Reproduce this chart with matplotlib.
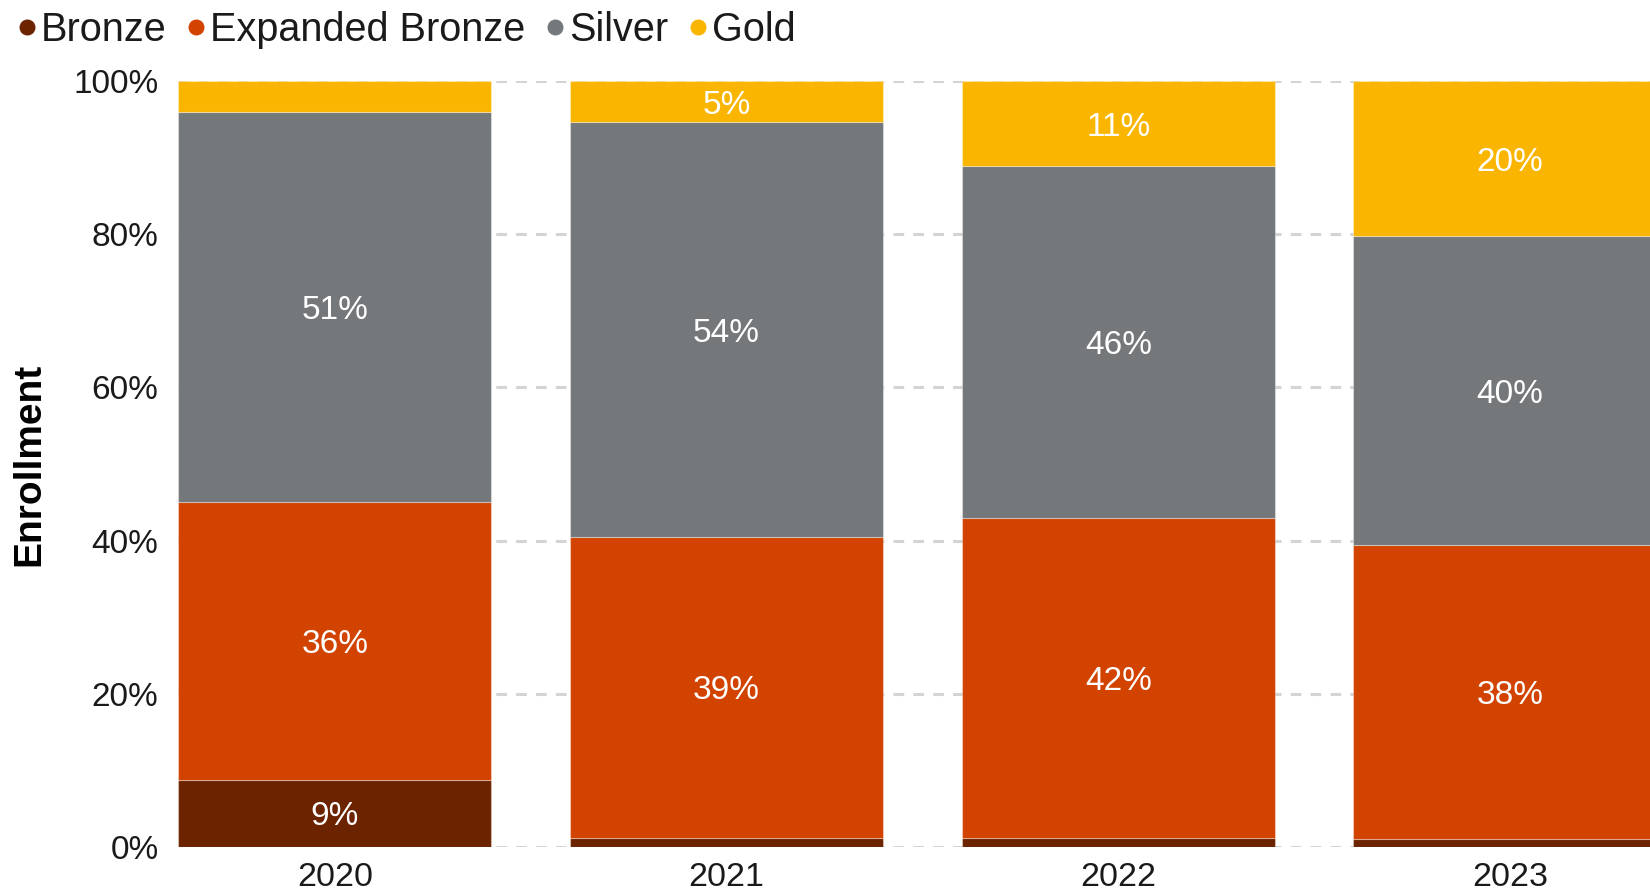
import numpy as np
import matplotlib
matplotlib.use("Agg")
import matplotlib.pyplot as plt
from matplotlib.lines import Line2D

# enrollment share by metal tier, percent of total
years = ["2020", "2021", "2022", "2023"]
tiers = ["Bronze", "Expanded Bronze", "Silver", "Gold"]
bronze = [8.8, 1.2, 1.2, 1.0]
expanded_bronze = [36.3, 39.3, 41.8, 38.4]
silver = [50.8, 54.1, 45.9, 40.3]
gold = [4.1, 5.4, 11.1, 20.3]
y_ticks = [0, 20, 40, 60, 80, 100]

colors = ["#6B2300", "#D24300", "#75787B", "#F9B500"]

plt.rcParams["font.family"] = ["Liberation Sans", "DejaVu Sans"]

fig = plt.figure(figsize=(16.5, 8.94), dpi=100)
ax = fig.add_axes([0.1079, 0.0526, 0.8921, 0.8568])

x = np.arange(len(years))
bottom = np.zeros(len(years))
for name, vals, col in zip(tiers, [bronze, expanded_bronze, silver, gold], colors):
    vals = np.array(vals)
    ax.bar(x, vals, width=0.8, bottom=bottom, color=col,
           edgecolor=(1, 1, 1, 0.35), linewidth=0.8, zorder=3)
    # small segments stay unlabelled
    for xi, b, v in zip(x, bottom, vals):
        if v >= 5:
            ax.text(xi, b + v / 2, f"{v:.0f}%", ha="center", va="center_baseline",
                    color="white", fontsize=24, zorder=4)
    bottom += vals

ax.set_xlim(-0.4, 3.357)
ax.set_ylim(0, 100)
ax.set_yticks(y_ticks)
ax.set_yticklabels([f"{t}%" for t in y_ticks])
ax.set_xticks(x)
ax.set_xticklabels(years)
ax.tick_params(axis="y", length=0, pad=14, labelsize=24, labelcolor="#1a1a1a")
ax.tick_params(axis="x", length=0, pad=11, labelsize=24.5, labelcolor="#1a1a1a")
for s in ax.spines.values():
    s.set_visible(False)
ax.yaxis.grid(True, color="#d4d4d4", linewidth=2.2, linestyle=(0, (3.5, 3)), zorder=0)
ax.set_axisbelow(True)

ax.set_ylabel("Enrollment", fontsize=28, fontweight="bold", color="#000000")
ax.yaxis.set_label_coords(-0.089, 0.5)

handles = [Line2D([], [], marker="o", linestyle="", markersize=10.5,
                  markerfacecolor=c, markeredgecolor=c) for c in colors]
fig.legend(handles, tiers, loc="upper left", bbox_to_anchor=(0.008, 0.992),
           ncol=4, frameon=False, fontsize=28.5, handlelength=0.5,
           handletextpad=0.1, columnspacing=0.5, borderpad=0.1,
           borderaxespad=0.0, labelcolor="#1a1a1a")

fig.savefig("out.png", dpi=100)
